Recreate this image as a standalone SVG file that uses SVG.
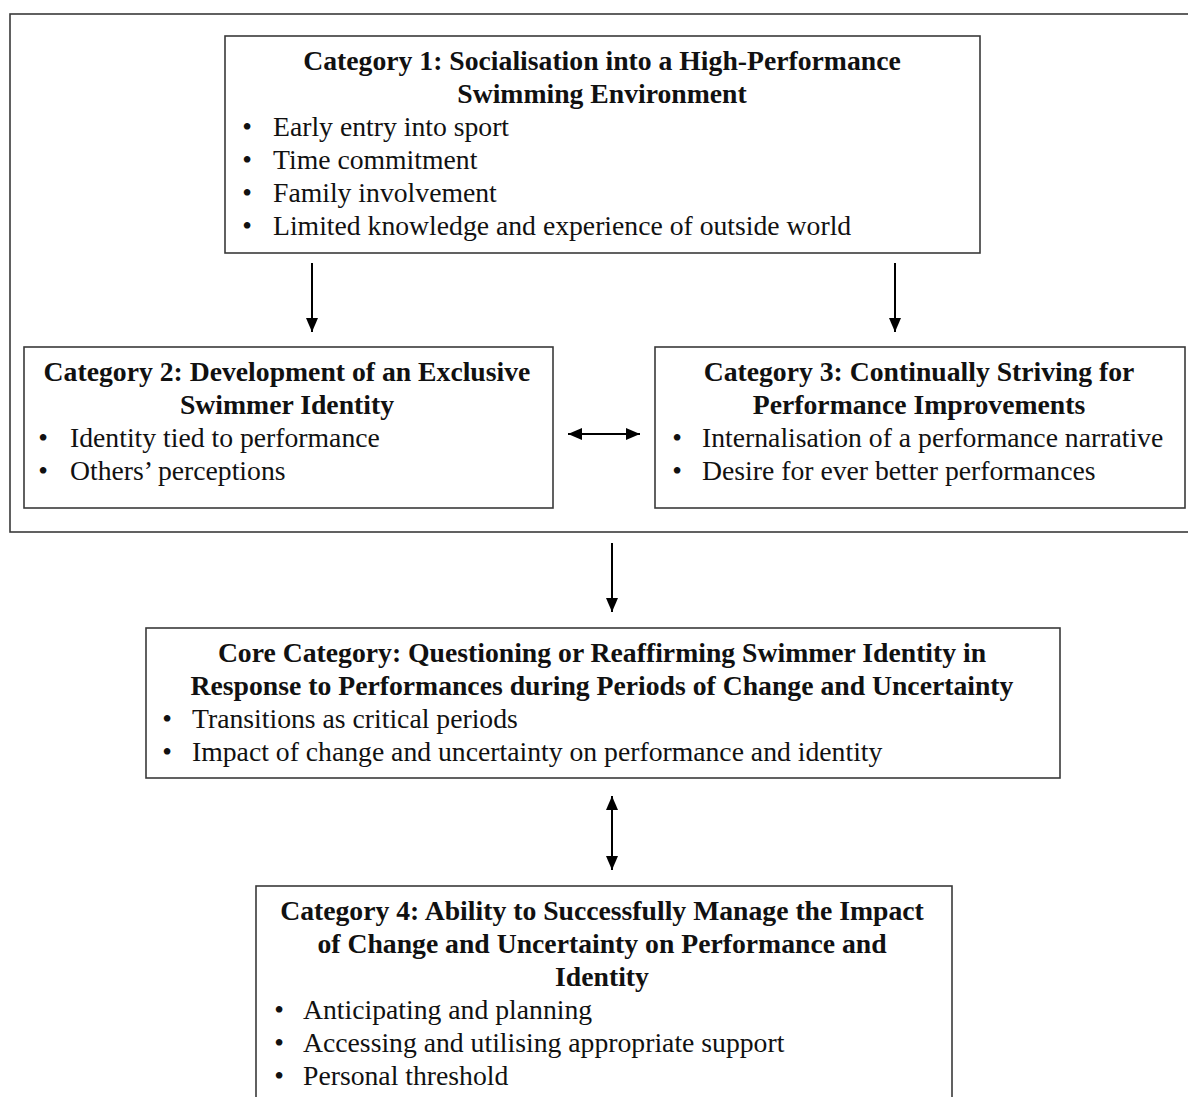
<svg xmlns="http://www.w3.org/2000/svg" width="1188" height="1097" viewBox="0 0 1188 1097">
<style>
.box{fill:#fff;stroke:#3a3a3a;stroke-width:1.6}
.frame{fill:none;stroke:#3a3a3a;stroke-width:1.6}
.t{font-family:"Liberation Serif","Times New Roman",serif;font-size:27.7px;fill:#111}
.h{font-weight:bold;text-anchor:middle}
.b{text-anchor:middle}
.c{stroke:#000;stroke-width:2;fill:none}
</style>
<defs>
<marker id="ah" markerUnits="userSpaceOnUse" markerWidth="14" markerHeight="12" refX="14" refY="6" orient="auto-start-reverse">
<path d="M0,0 L14,6 L0,12 Z" fill="#000"/>
</marker>
</defs>
<rect class="frame" x="10" y="14" width="1200" height="518"/>
<g id="connectors">
<line class="c" x1="312" y1="263" x2="312" y2="332" marker-end="url(#ah)"/>
<line class="c" x1="895" y1="263" x2="895" y2="332" marker-end="url(#ah)"/>
<line class="c" x1="568" y1="434" x2="640" y2="434" marker-start="url(#ah)" marker-end="url(#ah)"/>
<line class="c" x1="612" y1="543" x2="612" y2="612" marker-end="url(#ah)"/>
<line class="c" x1="612" y1="796" x2="612" y2="870" marker-start="url(#ah)" marker-end="url(#ah)"/>
</g>
<g id="cat1">
<rect class="box" x="225" y="36" width="755" height="217"/>
<text class="t h" x="602" y="70">Category 1: Socialisation into a High-Performance</text>
<text class="t h" x="602" y="103">Swimming Environment</text>
<text class="t b" x="247" y="136">•</text><text class="t" x="273" y="136">Early entry into sport</text>
<text class="t b" x="247" y="169">•</text><text class="t" x="273" y="169">Time commitment</text>
<text class="t b" x="247" y="202">•</text><text class="t" x="273" y="202">Family involvement</text>
<text class="t b" x="247" y="235">•</text><text class="t" x="273" y="235">Limited knowledge and experience of outside world</text>
</g>
<g id="cat2">
<rect class="box" x="24" y="347" width="529" height="161"/>
<text class="t h" x="287" y="381">Category 2: Development of an Exclusive</text>
<text class="t h" x="287" y="414">Swimmer Identity</text>
<text class="t b" x="43" y="447">•</text><text class="t" x="70" y="447">Identity tied to performance</text>
<text class="t b" x="43" y="480">•</text><text class="t" x="70" y="480">Others’ perceptions</text>
</g>
<g id="cat3">
<rect class="box" x="655" y="347" width="530" height="161"/>
<text class="t h" x="919" y="381">Category 3: Continually Striving for</text>
<text class="t h" x="919" y="414">Performance Improvements</text>
<text class="t b" x="677" y="447">•</text><text class="t" x="702" y="447">Internalisation of a performance narrative</text>
<text class="t b" x="677" y="480">•</text><text class="t" x="702" y="480">Desire for ever better performances</text>
</g>
<g id="core">
<rect class="box" x="146" y="628" width="914" height="150"/>
<text class="t h" x="602" y="662">Core Category: Questioning or Reaffirming Swimmer Identity in</text>
<text class="t h" x="602" y="695">Response to Performances during Periods of Change and Uncertainty</text>
<text class="t b" x="167" y="728">•</text><text class="t" x="192" y="728">Transitions as critical periods</text>
<text class="t b" x="167" y="761">•</text><text class="t" x="192" y="761">Impact of change and uncertainty on performance and identity</text>
</g>
<g id="cat4">
<rect class="box" x="256" y="886" width="696" height="240"/>
<text class="t h" x="602" y="920">Category 4: Ability to Successfully Manage the Impact</text>
<text class="t h" x="602" y="953">of Change and Uncertainty on Performance and</text>
<text class="t h" x="602" y="986">Identity</text>
<text class="t b" x="279" y="1019">•</text><text class="t" x="303" y="1019">Anticipating and planning</text>
<text class="t b" x="279" y="1052">•</text><text class="t" x="303" y="1052">Accessing and utilising appropriate support</text>
<text class="t b" x="279" y="1085">•</text><text class="t" x="303" y="1085">Personal threshold</text>
</g>
</svg>
